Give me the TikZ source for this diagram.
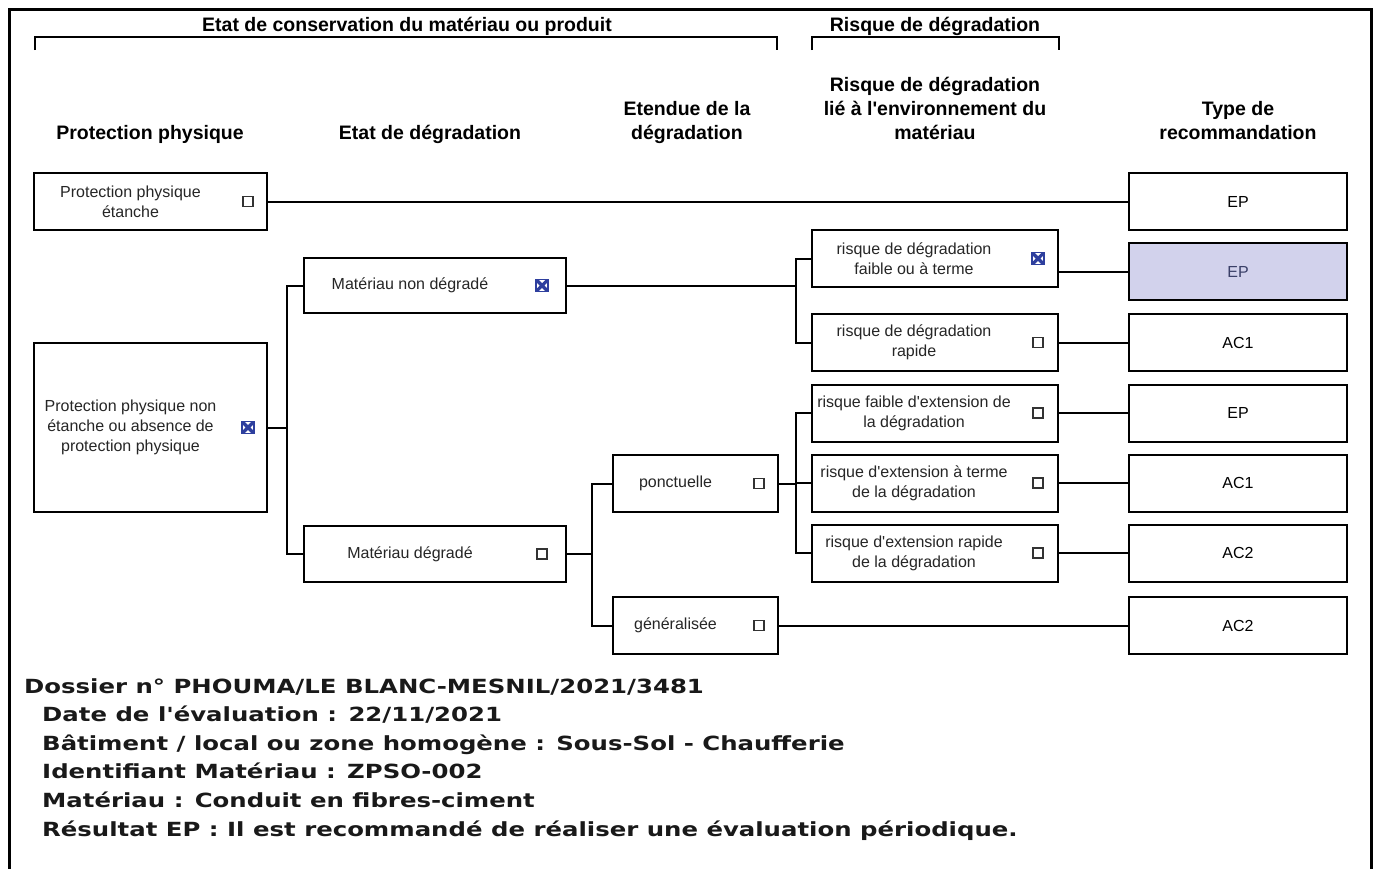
\documentclass[tikz,border=0pt]{standalone}
\usepackage{fontspec}
\setmainfont{Liberation Sans}
\newfontfamily\infofont{DejaVu Sans}[FakeStretch=1.25]
\definecolor{croix}{HTML}{2E3F9E}
\definecolor{lavande}{HTML}{D2D2EC}
\definecolor{eptexte}{HTML}{3A4068}

\begin{document}
\begin{tikzpicture}[x=1pt, y=-1pt,
    box/.style={draw, line width=2, minimum height=57, inner sep=0},
    lbl/.style={font=\fontsize{16}{20}\selectfont, align=center, inner sep=0, text=black!85},
    hdr/.style={font=\bfseries\fontsize{19.5}{24}\selectfont, align=center, inner sep=0, anchor=north},
    chk/.style={draw=black!80, line width=1.4, minimum size=10, inner sep=0},
    chkx/.style={draw=croix, line width=1.4, minimum size=12, inner sep=0,
      path picture={\draw[croix, line width=3.2]
        (path picture bounding box.south west) -- (path picture bounding box.north east)
        (path picture bounding box.north west) -- (path picture bounding box.south east);}},
    link/.style={line width=2},
    info/.style={font=\infofont\bfseries\fontsize{19.5}{24}\selectfont, inner sep=0, anchor=base west, text=black!90}
  ]
  \useasboundingbox (0,0) rectangle (1376,868);
  \fill[white] (0,0) rectangle (1376,868);
  \draw[line width=3] (9.5,875) -- (9.5,9.5) -- (1371,9.5) -- (1371,875);

  % titres de groupe
  \node[hdr] (t-conserv) at (407,17) {Etat de conservation du matériau ou produit};
  \node[hdr] (t-risque) at (935,17) {Risque de dégradation};
  \draw[link] (35,50) -- (35,37) -- (777,37) -- (777,50);
  \draw[link] (812,50) -- (812,37) -- (1059,37) -- (1059,50);

  % en-tetes de colonnes
  \node[hdr] (h-prot) at (150,125) {Protection physique};
  \node[hdr] (h-etat) at (430,125) {Etat de dégradation};
  \node[hdr] (h-etendue) at (687,101) {Etendue de la\\dégradation};
  \node[hdr] (h-env) at (935,77) {Risque de dégradation\\lié à l\textquotesingle environnement du\\matériau};
  \node[hdr] (h-type) at (1238,101) {Type de\\recommandation};

  % protection physique
  \node[box, minimum width=233] (ppe) at (150.5,201.5) {};
  \node[lbl] (ppe-t) at ([xshift=-20]ppe.center) {Protection physique\\étanche};
  \node[chk] (ppe-c) at ([xshift=-20]ppe.east) {};
  \node[box, minimum width=233, minimum height=169] (ppn) at (150.5,427.5) {};
  \node[lbl] (ppn-t) at ([xshift=-20]ppn.center) {Protection physique non\\étanche ou absence de\\protection physique};
  \node[chkx] (ppn-c) at ([xshift=-20]ppn.east) {};

  % etat de degradation
  \node[box, minimum width=262, minimum height=55] (mnd) at (435,285.5) {};
  \node[lbl] (mnd-t) at ([xshift=-25]mnd.center) {Matériau non dégradé};
  \node[chkx] (mnd-c) at ([xshift=-25]mnd.east) {};
  \node[box, minimum width=262, minimum height=56] (md) at (435,554) {};
  \node[lbl] (md-t) at ([xshift=-25]md.center) {Matériau dégradé};
  \node[chk] (md-c) at ([xshift=-25]md.east) {};

  % etendue
  \node[box, minimum width=165] (ponct) at (695.5,483.5) {};
  \node[lbl] (ponct-t) at ([xshift=-20]ponct.center) {ponctuelle};
  \node[chk] (ponct-c) at ([xshift=-20]ponct.east) {};
  \node[box, minimum width=165] (gen) at (695.5,625.5) {};
  \node[lbl] (gen-t) at ([xshift=-20]gen.center) {généralisée};
  \node[chk] (gen-c) at ([xshift=-20]gen.east) {};

  % risque
  \node[box, minimum width=246] (r1) at (935,258.5) {};
  \node[lbl] (r1-t) at ([xshift=-21]r1.center) {risque de dégradation\\faible ou à terme};
  \node[chkx] (r1-c) at ([xshift=-21]r1.east) {};
  \node[box, minimum width=246] (r2) at (935,342.5) {};
  \node[lbl] (r2-t) at ([xshift=-21]r2.center) {risque de dégradation\\rapide};
  \node[chk] (r2-c) at ([xshift=-21]r2.east) {};
  \node[box, minimum width=246] (r3) at (935,413) {};
  \node[lbl] (r3-t) at ([xshift=-21]r3.center) {risque faible d\textquotesingle extension de\\la dégradation};
  \node[chk] (r3-c) at ([xshift=-21]r3.east) {};
  \node[box, minimum width=246] (r4) at (935,483) {};
  \node[lbl] (r4-t) at ([xshift=-21]r4.center) {risque d\textquotesingle extension à terme\\de la dégradation};
  \node[chk] (r4-c) at ([xshift=-21]r4.east) {};
  \node[box, minimum width=246] (r5) at (935,553) {};
  \node[lbl] (r5-t) at ([xshift=-21]r5.center) {risque d\textquotesingle extension rapide\\de la dégradation};
  \node[chk] (r5-c) at ([xshift=-21]r5.east) {};

  % recommandations
  \node[box, minimum width=218, font=\fontsize{16}{20}\selectfont] (rec1) at (1238,201.5) {EP};
  \node[box, minimum width=218, fill=lavande, text=eptexte, font=\fontsize{16}{20}\selectfont] (rec2) at (1238,271.5) {EP};
  \node[box, minimum width=218, font=\fontsize{16}{20}\selectfont] (rec3) at (1238,342.5) {AC1};
  \node[box, minimum width=218, font=\fontsize{16}{20}\selectfont] (rec4) at (1238,413) {EP};
  \node[box, minimum width=218, font=\fontsize{16}{20}\selectfont] (rec5) at (1238,483) {AC1};
  \node[box, minimum width=218, font=\fontsize{16}{20}\selectfont] (rec6) at (1238,553) {AC2};
  \node[box, minimum width=218, font=\fontsize{16}{20}\selectfont] (rec7) at (1238,625.5) {AC2};

  % liaisons
  \draw[link] (ppe.east) -- (rec1.west);
  \draw[link] (ppn.east) -- ++(19,0) |- (mnd.west);
  \draw[link] (ppn.east) -- ++(19,0) |- (md.west);
  \draw[link] (mnd.east) -- ++(229,0) |- (r1.west);
  \draw[link] (mnd.east) -- ++(229,0) |- (r2.west);
  \draw[link] (md.east) -- ++(25,0) |- (ponct.west);
  \draw[link] (md.east) -- ++(25,0) |- (gen.west);
  \draw[link] (ponct.east) -- ++(17,0) |- (r3.west);
  \draw[link] (ponct.east) -- ++(17,0) |- (r4.west);
  \draw[link] (ponct.east) -- ++(17,0) |- (r5.west);
  \draw[link] (r1.east |- rec2.west) -- (rec2.west);
  \draw[link] (r2.east) -- (rec3.west);
  \draw[link] (r3.east) -- (rec4.west);
  \draw[link, line width=2.6] (r4.east) -- (rec5.west);
  \draw[link] (r5.east) -- (rec6.west);
  \draw[link] (gen.east) -- (rec7.west);

  % informations du dossier
  \node[info] (i-dossier) at (24,693) {Dossier n° PHOUMA/LE BLANC-MESNIL/2021/3481};
  \node[info] (i-date) at (42,721.6) {Date de l'évaluation : 22/11/2021};
  \node[info] (i-bat) at (42,750.2) {Bâtiment / local ou zone homogène : Sous-Sol - Chaufferie};
  \node[info] (i-id) at (42,778.8) {Identifiant Matériau : ZPSO-002};
  \node[info] (i-mat) at (42,807.4) {Matériau : Conduit en fibres-ciment};
  \node[info] (i-res) at (42,836) {Résultat EP : Il est recommandé de réaliser une évaluation périodique.};
\end{tikzpicture}
\end{document}
